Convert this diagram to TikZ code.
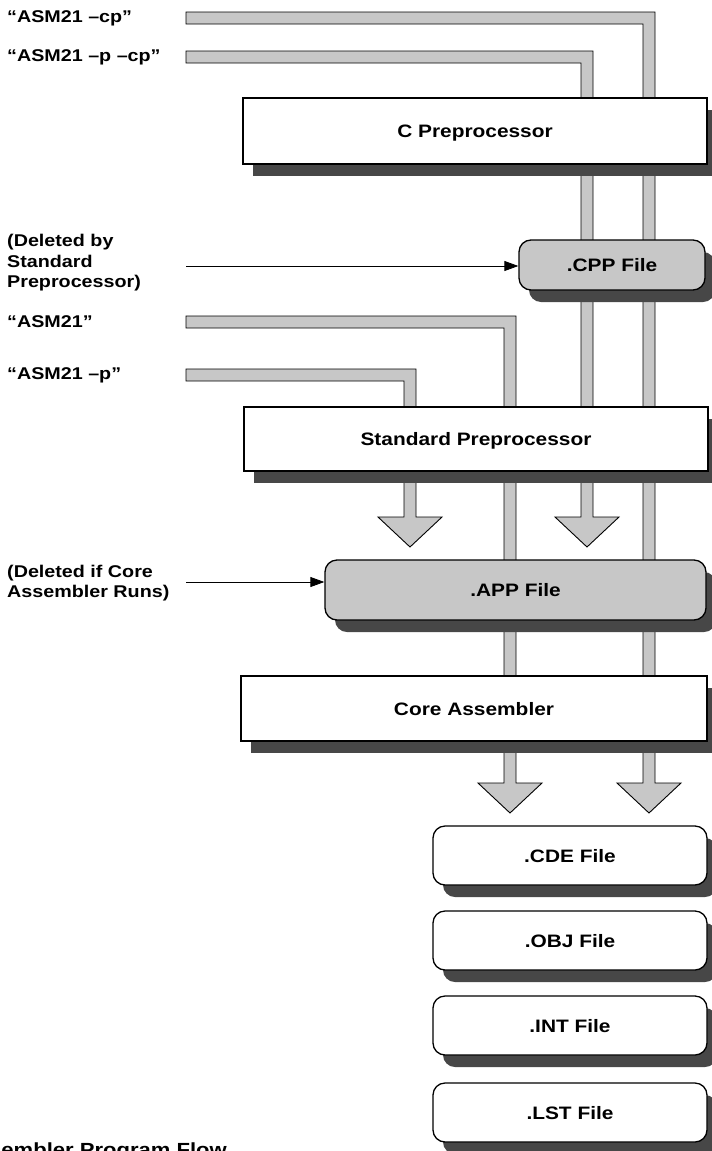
\documentclass[tikz,border=0pt]{standalone}
\usepackage{fontspec}
\setmainfont{Liberation Sans}[FakeStretch=1.16]
\usetikzlibrary{shadows,arrows.meta}
\definecolor{pipegray}{gray}{0.78}
\definecolor{shadowgray}{gray}{0.28}
\begin{document}
\begin{tikzpicture}[x=1pt,y=-1pt,
  every node/.style={font=\bfseries\fontsize{17}{20.5}\selectfont, inner sep=0pt},
  lbl/.style={anchor=west, align=left},
  boxbase/.style={draw=black, line width=1.3pt, font=\bfseries\fontsize{18}{21}\selectfont, text depth=0pt,
    drop shadow={shadow xshift=10pt, shadow yshift=-12pt, fill=shadowgray, opacity=1}},
  procbox/.style={boxbase, fill=white, rectangle},
  filebox/.style={boxbase, fill=white, rounded corners=12pt},
  tempbox/.style={boxbase, fill=pipegray, rounded corners=12pt},
  pipe/.style={draw=black, line width=0.9pt, fill=pipegray, line join=miter},
  note/.style={-{Triangle[length=14pt,width=10pt]}, line width=0.8pt}
]
\useasboundingbox (0,0) rectangle (712,1151);
\clip (0,0) rectangle (712,1151);

% pipes (drawn first, boxes cover them)
\draw[pipe] (186,12) -- (655,12) -- (655,783) -- (681,783) -- (649,813) -- (617,783) -- (643,783) -- (643,24) -- (186,24) -- cycle;
\draw[pipe] (186,51) -- (593,51) -- (593,517) -- (619,517) -- (587,547) -- (555,517) -- (581,517) -- (581,63) -- (186,63) -- cycle;
\draw[pipe] (186,316) -- (516,316) -- (516,783) -- (542,783) -- (510,813) -- (478,783) -- (504,783) -- (504,328) -- (186,328) -- cycle;
\draw[pipe] (186,369) -- (416,369) -- (416,517) -- (442,517) -- (410,547) -- (378,517) -- (404,517) -- (404,381) -- (186,381) -- cycle;

% labels
\node[lbl] (l1) at (7,18) {“ASM21 –cp”};
\node[lbl] (l2) at (7,57) {“ASM21 –p –cp”};
\node[lbl] (l3) at (7,263) {(Deleted by\\Standard\\Preprocessor)};
\node[lbl] (l4) at (7,322) {“ASM21”};
\node[lbl] (l5) at (7,375) {“ASM21 –p”};
\node[lbl] (l6) at (7,583) {(Deleted if Core\\Assembler Runs)};

% boxes
\node[procbox, minimum width=464pt, minimum height=66pt] (cpre) at (475,131) {C Preprocessor\hspace{16pt}};
\node[tempbox, minimum width=186pt, minimum height=50pt] (cpp) at (612,265) {.CPP File};
\node[procbox, minimum width=464pt, minimum height=64pt] (spre) at (476,439) {Standard Preprocessor\hspace{16pt}};
\node[tempbox, minimum width=381pt, minimum height=60pt] (app) at (515.5,590) {.APP File};
\node[procbox, minimum width=466pt, minimum height=65pt] (core) at (474,708.5) {Core Assembler\hspace{16pt}};
\node[filebox, minimum width=274pt, minimum height=59pt] (cde) at (570,855.5) {.CDE File\hspace{16pt}};
\node[filebox, minimum width=274pt, minimum height=59pt] (obj) at (570,940.5) {.OBJ File\hspace{16pt}};
\node[filebox, minimum width=274pt, minimum height=59pt] (int) at (570,1025.5) {.INT File\hspace{16pt}};
\node[filebox, minimum width=274pt, minimum height=59pt] (lst) at (570,1112.5) {.LST File\hspace{16pt}};

% note arrows
\coordinate (a1) at (186,266);
\coordinate (a2) at (186,582);
\draw[note] (a1) -- (a1 -| cpp.west);
\draw[note] (a2) -- (a2 -| app.west);

% caption (cut by the page edge, as in the reference)
\node[anchor=north east, font=\bfseries\fontsize{19}{22}\selectfont] (cap) at (227,1143) {Assembler Program Flow};
\end{tikzpicture}
\end{document}
